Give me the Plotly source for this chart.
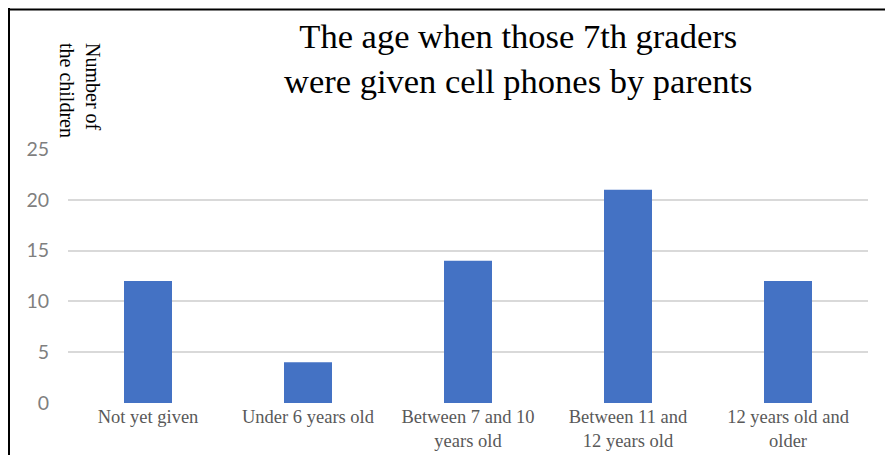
import plotly.graph_objects as go

categories = ["Not yet given", "Under 6 years old", "Between 7 and 10<br>years old",
              "Between 11 and<br>12 years old", "12 years old and<br>older"]
values = [12, 4, 14, 21, 12]
y_ticks = [0, 5, 10, 15, 20, 25]
title_text = "The age when those 7th graders<br>were given cell phones by parents"
y_title = "Number of<br>the children"

W, H = 885, 455
L, R, T, B = 68, 17, 149, 52
pw, ph = W - L - R, H - T - B

def px(x):
    return (x - L) / pw

def py(y):
    return (H - B - y) / ph

fig = go.Figure(go.Bar(x=categories, y=values, marker_color="#4472C4",
                       marker_line_width=0))

fig.update_layout(
    width=W, height=H,
    margin=dict(l=L, r=R, t=T, b=B, autoexpand=False),
    paper_bgcolor="white", plot_bgcolor="white",
    bargap=0.7,
    showlegend=False,
    xaxis=dict(showgrid=False, showline=False, zeroline=False, automargin=False,
               tickfont=dict(family="Liberation Serif", size=18.5, color="#595959"),
               ticks="", ticklabelstandoff=0),
    yaxis=dict(range=[0, 25], tickvals=y_ticks, showgrid=True, gridcolor="#d9d9d9",
               gridwidth=2, zeroline=False, showline=False, automargin=False,
               tickfont=dict(family="Lato", size=19.5, color="#7f7f7f"),
               ticklabelstandoff=18),
    annotations=[
        dict(text=title_text, x=px(518), y=py(59), xref="paper", yref="paper",
             showarrow=False, xanchor="center", yanchor="middle",
             font=dict(family="Liberation Serif", size=34.5, color="black")),
        dict(text=y_title, x=px(80), y=py(90), xref="paper", yref="paper",
             showarrow=False, textangle=90, align="left",
             xanchor="center", yanchor="middle",
             font=dict(family="Liberation Serif", size=20, color="black")),
    ],
    shapes=[
        dict(type="line", xref="paper", yref="paper", x0=px(8), x1=px(890),
             y0=py(9.5), y1=py(9.5), line=dict(color="black", width=2)),
        dict(type="line", xref="paper", yref="paper", x0=px(9), x1=px(9),
             y0=py(8), y1=py(460), line=dict(color="black", width=2)),
    ],
)

fig.write_html("out.html")
